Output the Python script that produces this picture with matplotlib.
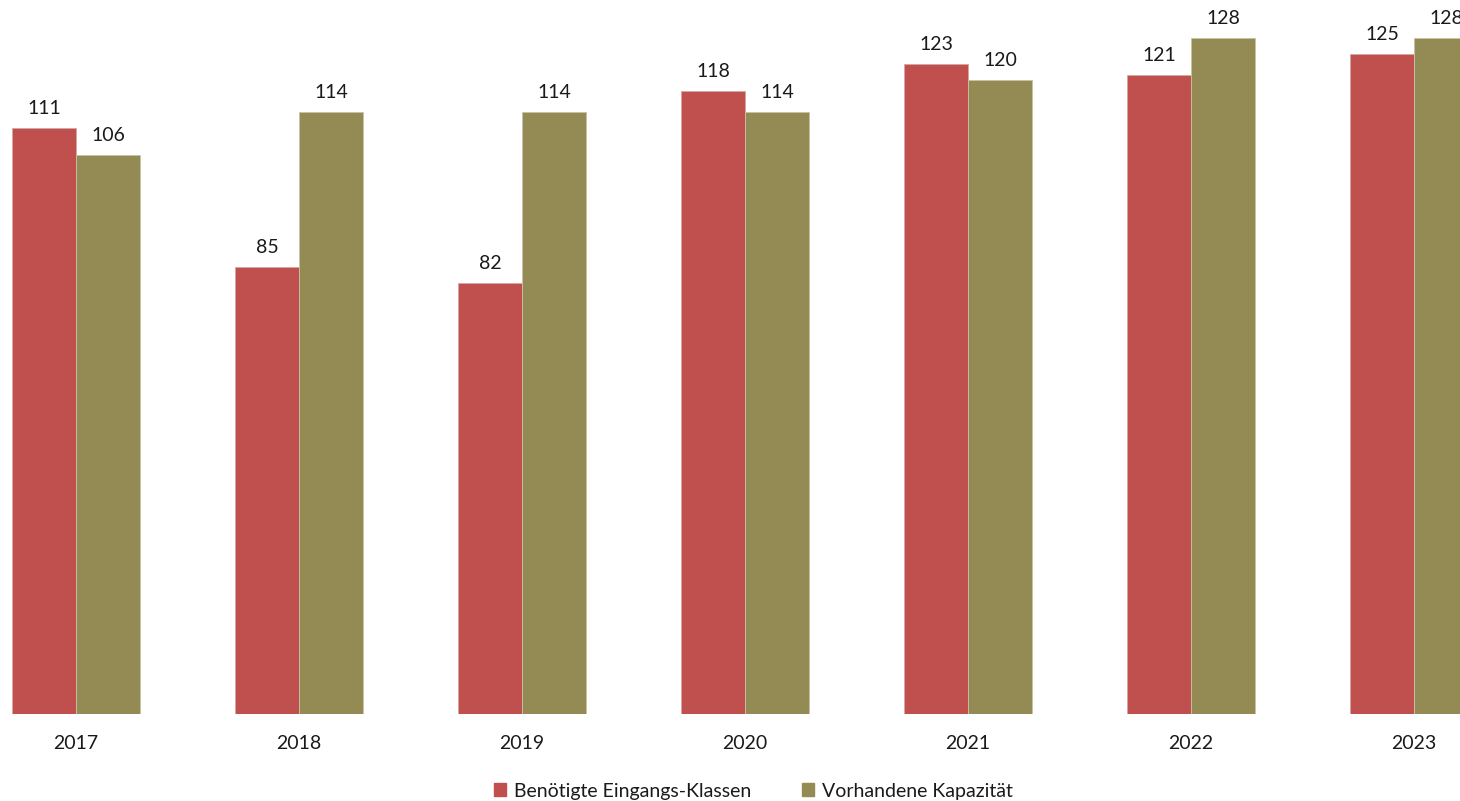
import numpy as np
import matplotlib.pyplot as plt
from matplotlib.patches import Patch

plt.rcParams['font.family'] = ['Lato', 'DejaVu Sans']

# Daten
jahre = ['2017', '2018', '2019', '2020', '2021', '2022', '2023']
benoetigt = [111, 85, 82, 118, 123, 121, 125]
kapazitaet = [106, 114, 114, 114, 120, 128, 128]

rot = '#C0504D'
oliv = '#948A54'

fig = plt.figure(figsize=(14.6, 8.01), dpi=100)
ax = fig.add_axes([0, 87 / 801, 1, 714 / 801])

x = np.arange(len(jahre))
w = 64 / 223
b1 = ax.bar(x - w / 2, benoetigt, w, color=rot, edgecolor='#d9a5a3', linewidth=0.6)
b2 = ax.bar(x + w / 2, kapazitaet, w, color=oliv, edgecolor='#c9c3a6', linewidth=0.6)

for bars in (b1, b2):
    for r in bars:
        ax.annotate(str(int(r.get_height())), (r.get_x() + r.get_width() / 2, r.get_height()),
                    xytext=(0, 8), textcoords='offset points', ha='center', va='bottom',
                    fontsize=14, color='#1a1a1a', annotation_clip=False)

ax.set_xlim(-76 / 223, (1460 - 76) / 223)
ax.set_ylim(1.1, 135.1)
ax.set_xticks(x)
ax.set_xticklabels(jahre, fontsize=14, color='#1a1a1a')
ax.tick_params(axis='x', length=0, pad=15)
ax.set_yticks([])
for s in ax.spines.values():
    s.set_visible(False)

handles = [Patch(color=rot, label='Benötigte Eingangs-Klassen'),
           Patch(color=oliv, label='Vorhandene Kapazität')]
leg = fig.legend(handles=handles, loc='lower center', bbox_to_anchor=(0.516, -0.02), ncol=2,
                 frameon=False, fontsize=14, handlelength=0.65, handleheight=0.65,
                 handletextpad=0.4, columnspacing=2.6)
for t in leg.get_texts():
    t.set_color('#1a1a1a')

fig.savefig('out.png', dpi=100)
